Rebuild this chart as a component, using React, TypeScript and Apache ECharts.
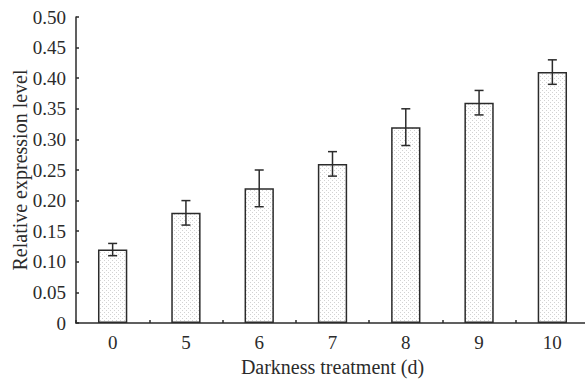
import React, { useEffect, useRef } from "react";
import * as echarts from "echarts";

const categories = ["0", "5", "6", "7", "8", "9", "10"];
const means = [0.12, 0.18, 0.22, 0.26, 0.32, 0.36, 0.41];
const errors = [0.01, 0.02, 0.03, 0.02, 0.03, 0.02, 0.02];
const yMin = 0;
const yMax = 0.5;
const yStep = 0.05;

const FONT = "Liberation Serif, Times New Roman, Tinos, serif";
const INK = "#2b2b2b";

function makePattern(): HTMLCanvasElement {
  const c = document.createElement("canvas");
  c.width = 4;
  c.height = 4;
  const ctx = c.getContext("2d")!;
  ctx.fillStyle = "#ffffff";
  ctx.fillRect(0, 0, 4, 4);
  ctx.fillStyle = "#d2d2d2";
  ctx.fillRect(0, 0, 1, 1);
  ctx.fillRect(2, 2, 1, 1);
  return c;
}

export default function App() {
  const ref = useRef<HTMLDivElement>(null);
  useEffect(() => {
    if (!ref.current) return;
    const chart = echarts.init(ref.current, undefined, { renderer: "svg" });
    const pattern = makePattern();
    const errData = means.map((m, i) => [i, m - errors[i], m + errors[i]]);
    chart.setOption({
      animation: false,
      backgroundColor: "#ffffff",
      textStyle: { fontFamily: FONT },
      grid: { left: 76, top: 17, width: 513, bottom: 58, outerBoundsMode: "none", containLabel: false },
      xAxis: {
        type: "category",
        data: categories,
        name: "Darkness treatment (d)",
        nameLocation: "middle",
        nameGap: 34,
        nameMoveOverlap: false,
        nameTextStyle: { fontFamily: FONT, fontSize: 20, color: INK },
        axisLine: { lineStyle: { color: INK, width: 1.5 } },
        axisTick: { show: true, inside: true, length: 3, alignWithLabel: false, lineStyle: { color: INK, width: 1.5 } },
        axisLabel: { fontFamily: FONT, fontSize: 19, color: INK, margin: 10 },
        splitLine: { show: false },
      },
      yAxis: {
        type: "value",
        min: yMin,
        max: yMax,
        interval: yStep,
        name: "Relative expression level",
        nameLocation: "middle",
        nameGap: 46,
        nameRotate: 90,
        nameMoveOverlap: false,
        nameTextStyle: { fontFamily: FONT, fontSize: 20, color: INK },
        axisLine: { show: true, lineStyle: { color: INK, width: 1.5 } },
        axisTick: { show: true, inside: true, length: 3, lineStyle: { color: INK, width: 1.5 } },
        axisLabel: {
          fontFamily: FONT,
          fontSize: 19,
          color: INK,
          margin: 10,
          formatter: (v: number) => (v === 0 ? "0" : v.toFixed(2)),
        },
        splitLine: { show: false },
      },
      series: [
        {
          type: "bar",
          data: means,
          barWidth: "40%",
          itemStyle: {
            color: { image: pattern, repeat: "repeat", imageWidth: 4, imageHeight: 4 } as any,
            borderColor: INK,
            borderWidth: 1.5,
          },
          z: 2,
        },
        {
          type: "custom",
          data: errData,
          z: 3,
          renderItem: (params: any, api: any) => {
            const x = api.value(0);
            const lo = api.coord([x, api.value(1)]);
            const hi = api.coord([x, api.value(2)]);
            const cap = 4.5;
            const style = { stroke: INK, lineWidth: 1.5 };
            return {
              type: "group",
              children: [
                { type: "line", shape: { x1: hi[0], y1: hi[1], x2: lo[0], y2: lo[1] }, style },
                { type: "line", shape: { x1: hi[0] - cap, y1: hi[1], x2: hi[0] + cap, y2: hi[1] }, style },
                { type: "line", shape: { x1: lo[0] - cap, y1: lo[1], x2: lo[0] + cap, y2: lo[1] }, style },
              ],
            };
          },
        },
      ],
    });
    return () => chart.dispose();
  }, []);
  return <div ref={ref} style={{ width: 585, height: 381, position: "absolute", left: 0, top: 0 }} />;
}
